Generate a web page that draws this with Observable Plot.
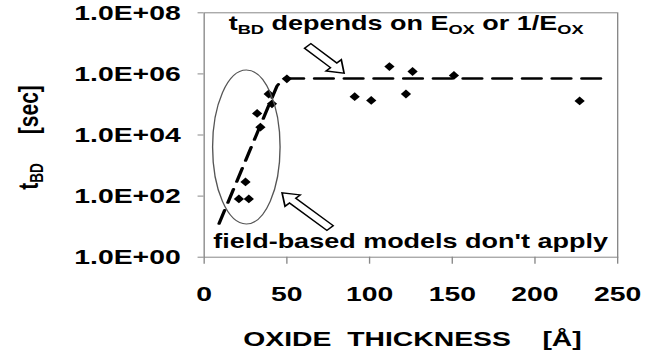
<!DOCTYPE html>
<html>
<head>
<meta charset="utf-8">
<script src="https://cdn.jsdelivr.net/npm/d3@7"></script>
<script src="https://cdn.jsdelivr.net/npm/@observablehq/plot@0.6"></script>
<style>
  html, body { margin: 0; padding: 0; background: #fff; }
  #chart svg { display: block; }
</style>
</head>
<body>
<div id="chart"></div>
<script>
// ---- data ----
const thickness = [21, 27, 25, 34, 32, 41, 39, 50, 91, 101, 112, 122, 126, 151, 227];   // Å
const tBD       = [81, 81, 290, 1.8e4, 5.1e4, 1.05e5, 2.2e5, 6.9e5, 1.8e5, 1.35e5, 1.74e6, 2.2e5, 1.2e6, 8.9e5, 1.3e5]; // sec
const trendX = [9, 44, 48, 240];
const trendY = [12.6, 4.0e5, 7.1e5, 7.1e5];
const xTicks = [0, 50, 100, 150, 200, 250];
const yTicks = [1, 1e2, 1e4, 1e6, 1e8];
const yTickLabels = ["1.0E+00", "1.0E+02", "1.0E+04", "1.0E+06", "1.0E+08"];
const xTitle = "OXIDE  THICKNESS    [Å]";
const yTitle = [["t", false], ["BD", true], ["     [sec]", false]];
const topNote = [["t", false], ["BD", true], [" depends on E", false], ["OX", true], [" or 1/E", false], ["OX", true]];
const bottomNote = [["field-based models don't apply", false]];
// annotation anchors in data units
const ellipseC = {x: 25.9, y: 3.9e3}, ellipseR = {dx: 20.4, decades: 2.52};
const topArrow = {x0: 63, y0: 7.9e6, x1: 85, y1: 1.02e6};
const botArrow = {x0: 76.5, y0: 8.7, x1: 47.5, y1: 123};
const topNotePos = {x: 122.5, y: 4.5e7};
const bottomNotePos = {x: 125.2, y: 3.3};

// ---- geometry: the reference is horizontally stretched ----
const S = 1.35;
const W = 656 / S;
const FONT = "'Liberation Sans', Arial, Helvetica, sans-serif";

const points = thickness.map((x, i) => ({x, y: tBD[i]}));
const trend = trendX.map((x, i) => ({x, y: trendY[i]}));

const diamond = {
  draw(ctx) {
    ctx.moveTo(0, -4.4); ctx.lineTo(3.8, 0); ctx.lineTo(0, 4.4); ctx.lineTo(-3.8, 0); ctx.closePath();
  }
};

const plot = Plot.plot({
  width: W,
  height: 358,
  marginLeft: 203.5 / S,
  marginRight: (656 - 617) / S,
  marginTop: 12.3,
  marginBottom: 101.3,
  style: {fontFamily: FONT, fontSize: "21px", fontWeight: "bold", color: "black", background: "white", overflow: "visible"},
  x: {domain: [0, 250], ticks: xTicks, tickSize: 7, tickPadding: 22, label: null},
  y: {type: "log", domain: [1, 1e8], ticks: yTicks, tickFormat: d => yTickLabels[yTicks.indexOf(d)], tickSize: 4.4, tickPadding: 13, label: null},
  marks: [
    Plot.frame({stroke: "#888", strokeWidth: 1}),
    Plot.line(trend, {x: "x", y: "y", stroke: "black", strokeWidth: 2.5, strokeDasharray: "14,8"}),
    Plot.dot(points, {x: "x", y: "y", symbol: diamond, fill: "black", stroke: "none"})
  ]
});

const svg = plot;
svg.setAttribute("width", 656);
svg.setAttribute("height", 358);
svg.setAttribute("preserveAspectRatio", "none");
svg.style.width = "656px";
svg.style.height = "358px";
svg.style.maxWidth = "none";

const root = d3.select(svg);
root.selectAll('g[aria-label="x-axis tick"], g[aria-label="y-axis tick"]').attr("stroke", "#888");

const X = plot.scale("x"), Y = plot.scale("y");
const px = v => X.apply(v), py = v => Y.apply(v);

const g = root.append("g").attr("font-family", FONT).attr("font-weight", "bold");

// ellipse
const ecx = px(ellipseC.x), ecy = py(ellipseC.y);
g.append("ellipse")
  .attr("cx", ecx).attr("cy", ecy)
  .attr("rx", px(ellipseC.x + ellipseR.dx) - ecx)
  .attr("ry", py(ellipseC.y / Math.pow(10, ellipseR.decades)) - ecy)
  .attr("fill", "none").attr("stroke", "#555").attr("stroke-width", 1);

// hollow block arrows
function arrow(a) {
  const x0 = px(a.x0), y0 = py(a.y0), x1 = px(a.x1), y1 = py(a.y1);
  const L = Math.hypot(x1 - x0, y1 - y0), ux = (x1 - x0) / L, uy = (y1 - y0) / L;
  const nx = -uy, ny = ux, w = 3.3, hw = 8, hl = 11;
  const bx = x1 - ux * hl, by = y1 - uy * hl;
  const pts = [
    [x0 + nx * w, y0 + ny * w], [bx + nx * w, by + ny * w], [bx + nx * hw, by + ny * hw],
    [x1, y1], [bx - nx * hw, by - ny * hw], [bx - nx * w, by - ny * w], [x0 - nx * w, y0 - ny * w]
  ];
  g.append("polygon").attr("points", pts.map(p => p.join(",")).join(" "))
    .attr("fill", "white").attr("stroke", "black").attr("stroke-width", 1.3).attr("stroke-linejoin", "miter");
}
arrow(topArrow);
arrow(botArrow);

// rich text helper
function rich(parent, parts, size, subSize, subShift) {
  const t = parent.append("text").attr("xml:space", "preserve").style("white-space", "pre")
    .attr("font-size", size).attr("fill", "black");
  let down = false;
  for (const [s, sub] of parts) {
    const ts = t.append("tspan").text(s);
    if (sub && !down) { ts.attr("dy", subShift).attr("font-size", subSize); down = true; }
    else if (sub) { ts.attr("font-size", subSize); }
    else if (!sub && down) { ts.attr("dy", -subShift); down = false; }
  }
  return t;
}

rich(g, topNote, 20, 13.5, 4)
  .attr("x", px(topNotePos.x)).attr("y", py(topNotePos.y)).attr("dy", "0.35em").attr("text-anchor", "middle");
rich(g, bottomNote, 20, 13.5, 4)
  .attr("x", px(bottomNotePos.x)).attr("y", py(bottomNotePos.y)).attr("dy", "0.35em").attr("text-anchor", "middle");

// axis titles
g.append("text").attr("xml:space", "preserve").style("white-space", "pre")
  .attr("x", 412.5 / S).attr("y", 339).attr("dy", "0.35em").attr("text-anchor", "middle")
  .attr("font-size", 21).attr("fill", "black").text(xTitle);

rich(g.append("g").attr("transform", `translate(${28},${137.5}) rotate(-90)`), yTitle, 21, 13.5, 4)
  .attr("text-anchor", "middle");

document.getElementById("chart").appendChild(svg);
</script>
</body>
</html>
